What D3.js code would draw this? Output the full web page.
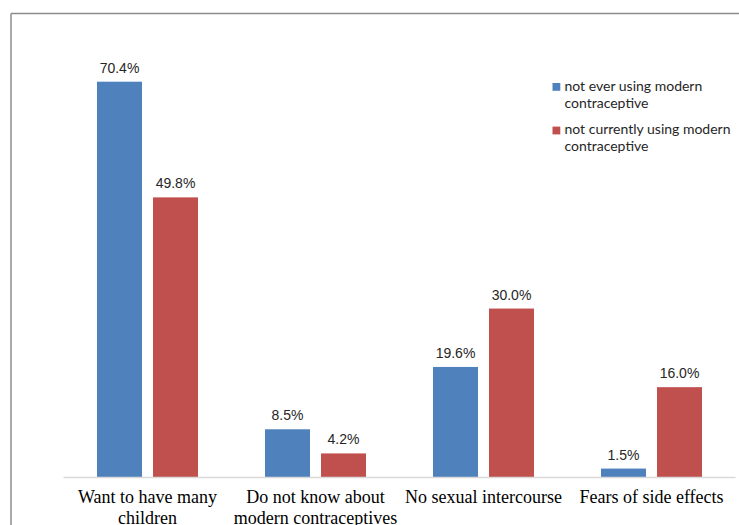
<!DOCTYPE html>
<html>
<head>
<meta charset="utf-8">
<script src="https://cdn.jsdelivr.net/npm/d3@7"></script>
<style>
  body { margin: 0; background: #fff; }
</style>
</head>
<body>
<div id="chart"></div>
<script>
// reasons for not using modern contraceptives (%)
const categories = [
  ["Want to have many", "children"],
  ["Do not know about", "modern contraceptives"],
  ["No sexual intercourse"],
  ["Fears of side effects"]
];
const seriesNames = [
  ["not ever using modern", "contraceptive"],
  ["not currently using modern", "contraceptive"]
];
const neverUsing = [70.4, 8.5, 19.6, 1.5];
const notCurrently = [49.8, 4.2, 30.0, 16.0];
const colors = ["#4f81bd", "#c0504d"];

const width = 739, height = 525;

const svg = d3.select("#chart")
  .append("svg")
  .attr("width", width)
  .attr("height", height);

// outer frame (top + left only visible)
svg.append("line")
  .attr("x1", 11).attr("x2", width).attr("y1", 13.5).attr("y2", 13.5)
  .attr("stroke", "#8c8c8c").attr("stroke-width", 1.5);
svg.append("line")
  .attr("x1", 11).attr("x2", 11).attr("y1", 13.5).attr("y2", height)
  .attr("stroke", "#8c8c8c").attr("stroke-width", 1.5);

const catKeys = categories.map((d, i) => i);

const x0 = d3.scaleBand()
  .domain(catKeys)
  .range([63.5, 735.5]);

const x1 = d3.scaleBand()
  .domain([0, 1])
  .range([33.5, 134.5])
  .paddingInner(0.1964);

const y = d3.scaleLinear()
  .domain([0, 80])
  .range([477, 477 - 80 * 5.615]);

const data = catKeys.map(i => ({ cat: i, values: [neverUsing[i], notCurrently[i]] }));

const groups = svg.append("g")
  .selectAll("g")
  .data(data)
  .join("g")
  .attr("transform", d => `translate(${x0(d.cat)},0)`);

groups.selectAll("rect")
  .data(d => d.values.map((v, s) => ({ v, s })))
  .join("rect")
  .attr("x", d => x1(d.s))
  .attr("y", d => y(d.v))
  .attr("width", x1.bandwidth())
  .attr("height", d => y(0) - y(d.v))
  .attr("fill", d => colors[d.s]);

groups.selectAll("text.val")
  .data(d => d.values.map((v, s) => ({ v, s })))
  .join("text")
  .attr("class", "val")
  .attr("x", d => x1(d.s) + x1.bandwidth() / 2)
  .attr("y", d => y(d.v) - 9)
  .attr("text-anchor", "middle")
  .attr("font-family", "Liberation Sans, Arial, sans-serif")
  .attr("font-size", "14px")
  .attr("fill", "#262626")
  .text(d => d.v.toFixed(1) + "%");

// x axis baseline
svg.append("line")
  .attr("x1", x0.range()[0]).attr("x2", x0.range()[1])
  .attr("y1", y(0) + 0.5).attr("y2", y(0) + 0.5)
  .attr("stroke", "#d9d9d9").attr("stroke-width", 1.5);

// category labels
const catLabels = svg.append("g")
  .selectAll("text")
  .data(catKeys)
  .join("text")
  .attr("x", d => x0(d) + x0.bandwidth() / 2)
  .attr("y", 503)
  .attr("text-anchor", "middle")
  .attr("font-family", "Liberation Serif, Times New Roman, serif")
  .attr("font-size", "18px")
  .attr("fill", "#000");

catLabels.selectAll("tspan")
  .data(d => categories[d])
  .join("tspan")
  .attr("x", function () { return this.parentNode.getAttribute("x"); })
  .attr("dy", (d, i) => i === 0 ? 0 : 21)
  .text(d => d);

// legend
const legend = svg.append("g")
  .selectAll("g")
  .data(seriesNames)
  .join("g")
  .attr("transform", (d, i) => `translate(552.5,${90.7 + i * 43.6})`);

legend.append("rect")
  .attr("x", 0).attr("y", -7.7)
  .attr("width", 7.8).attr("height", 7.8)
  .attr("fill", (d, i) => colors[i]);

legend.append("text")
  .attr("x", 12)
  .attr("y", 0)
  .attr("font-family", "Lato, Carlito, Calibri, sans-serif")
  .attr("font-size", "14px")
  .attr("fill", "#262626")
  .selectAll("tspan")
  .data(d => d)
  .join("tspan")
  .attr("x", 12)
  .attr("dy", (d, i) => i === 0 ? 0 : 17)
  .text(d => d);
</script>
</body>
</html>
